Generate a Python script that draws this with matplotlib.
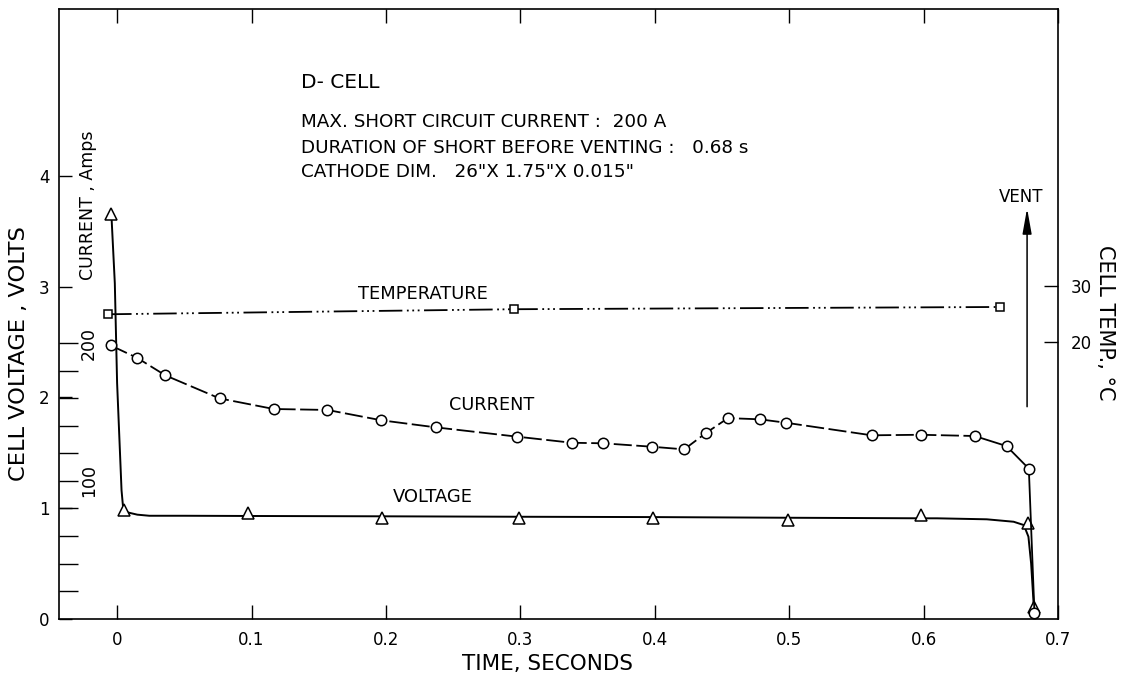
import matplotlib
matplotlib.use('Agg')
import matplotlib.pyplot as plt
from matplotlib.transforms import blended_transform_factory as btf

plt.rcParams['font.family'] = ['DejaVu Sans']

# ---------------- data ----------------
# Voltage, volts (solid curve and triangle markers)
volt_curve_t = [-0.0042, -0.0017, 0.0, 0.0033, 0.0045, 0.008, 0.015, 0.024, 0.05, 0.10,
                0.20, 0.30, 0.40, 0.50, 0.60, 0.61, 0.647, 0.667, 0.6746, 0.678, 0.680, 0.682]
volt_curve_v = [3.64, 3.03, 2.13, 1.16, 1.00, 0.96, 0.94, 0.93, 0.93, 0.928,
                0.925, 0.921, 0.918, 0.912, 0.907, 0.907, 0.898, 0.876, 0.846, 0.741, 0.50, 0.108]
volt_mark_t = [-0.0042, 0.005, 0.0972, 0.197, 0.2993, 0.399, 0.499, 0.598, 0.6776, 0.682]
volt_mark_v = [3.66, 0.982, 0.952, 0.907, 0.907, 0.907, 0.892, 0.937, 0.867, 0.108]

# Current, amps (circles)
curr_t = [-0.0049, 0.0151, 0.0359, 0.0762, 0.1165, 0.1565, 0.1966, 0.2369, 0.2978, 0.3383,
          0.3618, 0.3981, 0.4219, 0.4384, 0.4545, 0.4783, 0.4978, 0.5614, 0.5979, 0.638,
          0.6617, 0.6783, 0.6825]
curr_a = [198.4, 189.2, 176.6, 159.9, 152.2, 151.5, 144.0, 138.9, 132.1, 127.7,
          127.3, 124.8, 122.9, 135.0, 145.6, 144.7, 142.2, 133.1, 133.5, 132.6,
          125.3, 108.9, 3.9]

# Temperature, deg C (squares)
temp_t = [-0.0067, 0.2956, 0.657]
temp_c = [24.9, 25.8, 26.2]

# Ticks
x_ticks = [0, 0.1, 0.2, 0.3, 0.4, 0.5, 0.6, 0.7]
x_tick_labels = ['0', '0.1', '0.2', '0.3', '0.4', '0.5', '0.6', '0.7']
volt_ticks = [0, 1, 2, 3, 4]
curr_ticks = [20, 40, 60, 80, 100, 120, 140, 160, 180, 200]
curr_tick_labels = [100, 200]
temp_ticks = [20, 30]

# Annotations
info_lines = ['D- CELL',
              'MAX. SHORT CIRCUIT CURRENT :  200 A',
              'DURATION OF SHORT BEFORE VENTING :   0.68 s',
              'CATHODE DIM.   26"X 1.75"X 0.015"']

# ---------------- figure ----------------
fig = plt.figure(figsize=(11.21, 6.83), dpi=100)
ax = fig.add_axes([0.0529, 0.0941, 0.8909, 0.8932])
ax.set_xlim(-0.043, 0.7)
ax.set_ylim(0, 5.51)

ax_i = ax.twinx()
ax_i.set_ylim(0, 442.7)
ax_t = ax.twinx()
ax_t.set_ylim(-29.46, 79.46)

for a in (ax_i, ax_t):
    for s in a.spines.values():
        s.set_visible(False)
for s in ax.spines.values():
    s.set_linewidth(1.2)

# x axis
ax.set_xticks(x_ticks)
ax.set_xticklabels(x_tick_labels)
ax.tick_params(axis='x', direction='in', length=10, width=1, top=True, pad=9, labelsize=12)
# voltage axis
ax.set_yticks(volt_ticks)
ax.tick_params(axis='y', direction='in', length=9.5, width=1, pad=7, labelsize=12, right=False)

# current axis: ticks on left side, inside
ax_i.yaxis.set_ticks_position('left')
ax_i.set_yticks(curr_ticks)
ax_i.tick_params(axis='y', direction='in', length=13.5, width=1,
                 left=True, right=False, labelleft=False, labelright=False)
tr_i = btf(ax_i.transAxes, ax_i.transData)
for v in curr_tick_labels:
    ax_i.text(0.0297, v, str(v), transform=tr_i, rotation=90, ha='center', va='center', fontsize=12.5)

# temperature axis
ax_t.set_yticks(temp_ticks)
ax_t.tick_params(axis='y', direction='in', length=10, width=1, pad=9, labelsize=12)

# ---------------- curves ----------------
ax.plot(volt_curve_t, volt_curve_v, color='black', lw=1.4, zorder=3)
ax.plot(volt_mark_t, volt_mark_v, ls='none', marker='^', ms=8, mfc='white', mec='black', mew=1.1, zorder=4)

split = 19
ax_i.plot(curr_t[:split + 1], curr_a[:split + 1], color='black', lw=1.3, ls=(0, (10, 2.5)), zorder=3)
ax_i.plot(curr_t[split:], curr_a[split:], color='black', lw=1.3, zorder=3)
ax_i.plot(curr_t, curr_a, ls='none', marker='o', ms=7.5, mfc='white', mec='black', mew=1.1, zorder=4)

ax_t.plot(temp_t, temp_c, color='black', lw=1.3, ls=(0, (13, 2.5, 1, 2, 1, 2, 1, 2.5)), zorder=3)
ax_t.plot(temp_t, temp_c, ls='none', marker='s', ms=6, mfc='white', mec='black', mew=1.1, zorder=4)

# ---------------- texts ----------------
ax.text(0.1365, 4.791, info_lines[0], fontsize=14.5, ha='left', va='baseline')
ax.text(0.1365, 4.439, info_lines[1], fontsize=13.2, ha='left', va='baseline')
ax.text(0.1365, 4.210, info_lines[2], fontsize=13.2, ha='left', va='baseline')
ax.text(0.1365, 3.993, info_lines[3], fontsize=13.2, ha='left', va='baseline')

ax.text(0.1793, 2.885, 'TEMPERATURE', fontsize=12.9, ha='left', va='baseline')
ax.text(0.2472, 1.885, 'CURRENT', fontsize=12.7, ha='left', va='baseline')
ax.text(0.2052, 1.057, 'VOLTAGE', fontsize=12.9, ha='left', va='baseline')
ax.text(0.6724, 3.764, 'VENT', fontsize=12, ha='center', va='baseline')

ax.annotate('', xy=(0.677, 3.707), xytext=(0.677, 1.915),
            arrowprops=dict(arrowstyle='-|>,head_length=1.4,head_width=0.25', lw=1.1,
                            color='black', mutation_scale=11, shrinkA=0, shrinkB=0))

fig.text(19 / 1121, 1 - 354 / 683, 'CELL VOLTAGE , VOLTS', rotation=90, ha='center', va='center', fontsize=16.2)
fig.text(88 / 1121, 1 - 205.7 / 683, 'CURRENT , Amps', rotation=90, ha='center', va='center', fontsize=12.5)
fig.text(548 / 1121, 1 - 664 / 683, 'TIME, SECONDS', ha='center', va='center', fontsize=15.5)
fig.text(1105 / 1121, 1 - 323 / 683, 'CELL TEMP., °C', rotation=-90, ha='center', va='center', fontsize=15)

fig.savefig('out.png', dpi=100)
